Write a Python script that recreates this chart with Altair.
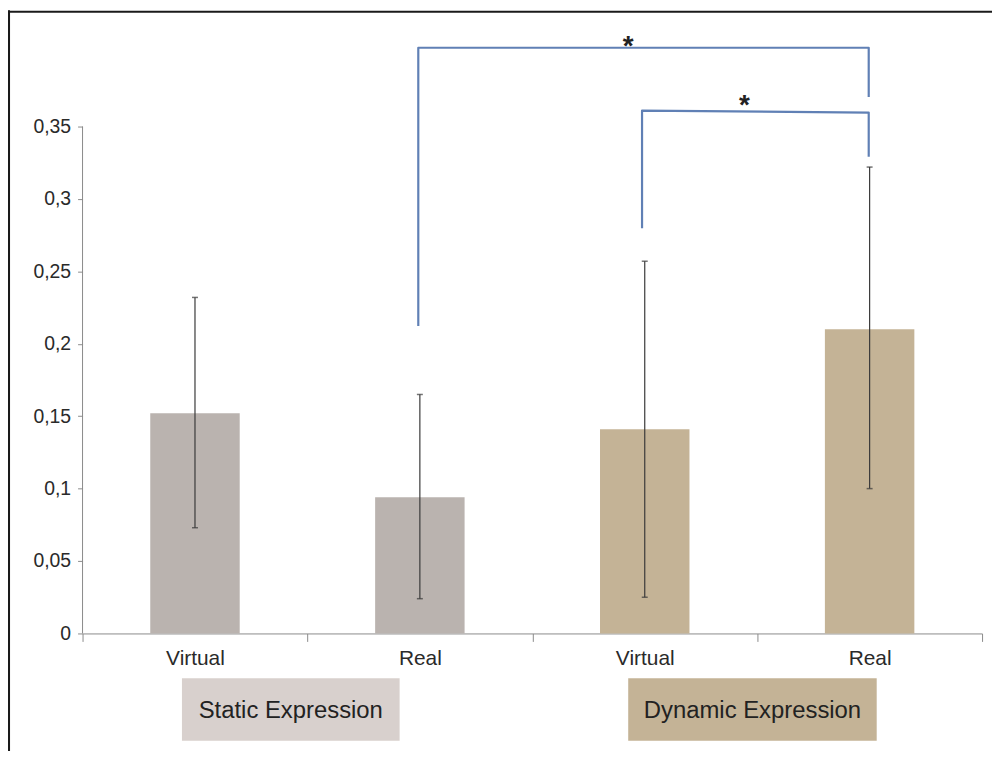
import altair as alt
import pandas as pd

# ---- data ----
groups = ["Static", "Static", "Dynamic", "Dynamic"]
conditions = ["Virtual", "Real", "Virtual", "Real"]
means = [0.152, 0.094, 0.141, 0.210]
err_low = [0.073, 0.024, 0.025, 0.100]
err_high = [0.232, 0.165, 0.257, 0.322]
y_ticks = [0, 0.05, 0.1, 0.15, 0.2, 0.25, 0.3, 0.35]

# significance brackets, x in category-index units (0..4), y in data units
br_id = ["outer"] * 4 + ["inner"] * 4
br_ord = [0, 1, 2, 3, 0, 1, 2, 3]
br_x = [1.493, 1.493, 3.496, 3.496, 2.488, 2.488, 3.496, 3.496]
br_y = [0.2122, 0.4044, 0.4044, 0.3704, 0.2797, 0.3610, 0.3596, 0.3292]
star_x = [2.4265, 2.9436]
star_y = [0.4093, 0.3681]

# group label boxes, x in category-index units
box_names = ["Static Expression", "Dynamic Expression"]
box_x0 = [0.442, 2.4265]
box_x1 = [1.410, 3.5315]

keys = [f"{g}|{c}" for g, c in zip(groups, conditions)]
df = pd.DataFrame({"key": keys, "group": groups, "mean": means,
                   "lo": err_low, "hi": err_high})
br = pd.DataFrame({"id": br_id, "ord": br_ord, "x": br_x, "y": br_y})
stars = pd.DataFrame({"x": star_x, "y": star_y, "t": ["*", "*"]})
boxes = pd.DataFrame({"name": box_names, "x0": box_x0, "x1": box_x1})

W, H = 905, 625
YMAX = 0.4289
FONT = "Liberation Sans"

yscale = alt.Scale(domain=[0, YMAX], nice=False, zero=True)
band = alt.Scale(paddingInner=0, paddingOuter=0)
idx = alt.Scale(domain=[0, 4], nice=False, zero=False)

bars = alt.Chart(df).mark_bar(size=90).encode(
    x=alt.X("key:N", sort=keys, scale=band, title=None,
            axis=alt.Axis(labelExpr="split(datum.value, '|')[1]",
                          tickBand="extent", tickSize=8, tickColor="#8a8a8a",
                          domainColor="#8a8a8a", labelFontSize=21,
                          labelColor="#2a2a2a", labelPadding=6,
                          labelAngle=0, labelFont=FONT)),
    y=alt.Y("mean:Q", scale=yscale, title=None,
            axis=alt.Axis(values=y_ticks, domain=False, grid=False,
                          tickSize=5, tickColor="#8a8a8a",
                          labelExpr="replace(toString(datum.value), '.', ',')",
                          labelFontSize=19.5, labelColor="#2a2a2a",
                          labelPadding=7, labelFont=FONT)),
    color=alt.Color("group:N", legend=None,
                    scale=alt.Scale(domain=["Static", "Dynamic"],
                                    range=["#bab3af", "#c4b396"])),
)

yline = alt.Chart(pd.DataFrame({"a": [0.0], "b": [0.35]})).mark_rule(
    color="#8a8a8a", strokeWidth=1).encode(
    x=alt.value(0), y=alt.Y("a:Q", title=None), y2="b:Q")

errs = alt.Chart(df).mark_rule(color="#3a3a3a", strokeWidth=1.2).encode(
    x=alt.X("key:N", sort=keys, scale=band, axis=None),
    y=alt.Y("lo:Q", title=None), y2="hi:Q")

caps = alt.Chart(df).transform_fold(["lo", "hi"], as_=["k", "v"]).mark_tick(
    color="#3a3a3a", size=6, thickness=1.5).encode(
    x=alt.X("key:N", sort=keys, scale=band, axis=None),
    y=alt.Y("v:Q", title=None))

brackets = alt.Chart(br).mark_line(color="#6080b5", strokeWidth=2.2,
                                   strokeJoin="round").encode(
    x=alt.X("x:Q", scale=idx, axis=None),
    y=alt.Y("y:Q", title=None),
    detail="id:N", order="ord:Q")

star_marks = alt.Chart(stars).mark_text(fontSize=28, fontWeight="bold",
                                        color="#222222", baseline="middle",
                                        dy=6, font=FONT).encode(
    x=alt.X("x:Q", scale=idx, axis=None),
    y=alt.Y("y:Q", title=None), text="t:N")

box_rects = alt.Chart(boxes).mark_rect().encode(
    x=alt.X("x0:Q", scale=idx, axis=None), x2="x1:Q",
    y=alt.value(670), y2=alt.value(733),
    color=alt.Color("name:N", legend=None,
                    scale=alt.Scale(domain=box_names,
                                    range=["#d8d0cd", "#c4b396"])))

box_text = alt.Chart(boxes).transform_calculate(
    mid="(datum.x0 + datum.x1) / 2").mark_text(
    fontSize=24, color="#222222", baseline="middle", font=FONT).encode(
    x=alt.X("mid:Q", scale=idx, axis=None),
    y=alt.value(703), text="name:N")

frame_top = alt.Chart(pd.DataFrame({"a": [0]})).mark_rule(
    color="#1a1a1a", strokeWidth=2).encode(
    x=alt.value(-76), x2=alt.value(920), y=alt.value(-0.5))
frame_left = alt.Chart(pd.DataFrame({"a": [0]})).mark_rule(
    color="#1a1a1a", strokeWidth=2.7).encode(
    x=alt.value(-74.3), y=alt.value(-2), y2=alt.value(780))

chart = alt.layer(
    bars, yline, errs, caps, brackets, star_marks, box_rects, box_text,
    frame_top, frame_left
).resolve_scale(x="independent", color="independent").properties(
    width=W, height=H,
    padding={"left": 75, "top": 2, "right": 10, "bottom": 116},
    autosize=alt.AutoSizeParams(type="none"),
).configure(
    font=FONT, background="white"
).configure_view(stroke=None).configure_axisY(domain=False)

chart.save("out.html", embed_options={"renderer": "svg", "actions": False})
